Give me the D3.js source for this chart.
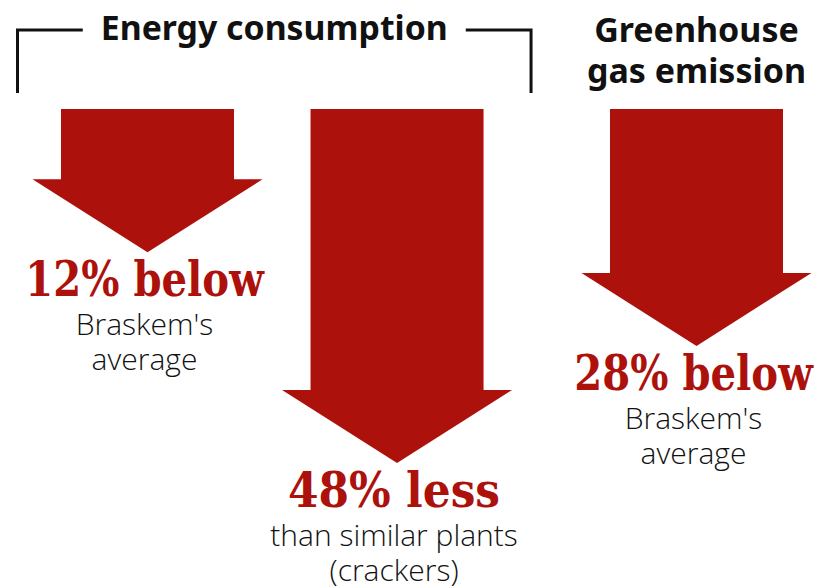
<!DOCTYPE html>
<html>
<head>
<meta charset="utf-8">
<script src="https://cdn.jsdelivr.net/npm/d3@7"></script>
<style>
  body { margin: 0; background: #fff; }
  svg { display: block; }
</style>
</head>
<body>
<div class="container"></div>
<script>
// Data
const categories = ['energyBraskem', 'energyCrackers', 'ghgBraskem'];
const groups = ['energy', 'energy', 'ghg'];
const values = [12, 48, 28];
const valueLabels = ['12% below', '48% less', '28% below'];
const subLabels = [
  ["Braskem's", 'average'],
  ['than similar plants', '(crackers)'],
  ["Braskem's", 'average'],
];
const groupNames = ['energy', 'ghg'];
const groupTitles = [['Energy consumption'], ['Greenhouse', 'gas emission']];

// Constants
const width = 827;
const height = 588;
const red = '#ad110c';
const shaftTop = 109;
const shaftWidth = 173;
const headWidth = 230;
const headHeight = 73;
const groupGap = 0.2;

const svg = d3
  .select('.container')
  .append('svg')
  .attr('width', width)
  .attr('height', height);

// slot index = position in list + extra gap between groups
const slots = categories.map((c, i) => i + groupNames.indexOf(groups[i]) * groupGap);
const x = d3
  .scaleLinear()
  .domain([0, d3.max(slots)])
  .range([147.5, 696.5]);

const shaft = d3.scaleLinear().domain([0, 48]).range([0, 281]);

const arrowPath = (d, i) => {
  const cx = x(slots[i]);
  const yHead = shaftTop + shaft(d);
  const p = d3.path();
  p.moveTo(cx - shaftWidth / 2, shaftTop);
  p.lineTo(cx + shaftWidth / 2, shaftTop);
  p.lineTo(cx + shaftWidth / 2, yHead);
  p.lineTo(cx + headWidth / 2, yHead);
  p.lineTo(cx, yHead + headHeight);
  p.lineTo(cx - headWidth / 2, yHead);
  p.lineTo(cx - shaftWidth / 2, yHead);
  p.closePath();
  return p.toString();
};

// Arrows
svg
  .append('g')
  .selectAll('path')
  .data(values)
  .enter()
  .append('path')
  .attr('d', arrowPath)
  .attr('fill', red);

// Value labels
const labels = svg
  .append('g')
  .selectAll('g')
  .data(values)
  .enter()
  .append('g')
  .attr('transform', (d, i) => `translate(${x(slots[i]) - 3},${shaftTop + shaft(d) + headHeight})`);

labels
  .append('text')
  .attr('y', 44)
  .attr('text-anchor', 'middle')
  .attr('fill', red)
  .style('font-family', '"DejaVu Serif", serif')
  .style('font-weight', 'bold')
  .style('font-size', '49px')
  .attr('textLength', (d, i) => valueLabels[i].length * 26.5)
  .attr('lengthAdjust', 'spacingAndGlyphs')
  .text((d, i) => valueLabels[i]);

labels
  .selectAll('text.sub')
  .data((d, i) => subLabels[i])
  .enter()
  .append('text')
  .attr('class', 'sub')
  .attr('y', (d, j) => 83 + j * 35)
  .attr('text-anchor', 'middle')
  .attr('fill', '#111')
  .style('font-family', '"Open Sans", "Noto Sans", sans-serif')
  .style('font-weight', 300)
  .style('font-size', '30px')
  .text((d) => d);

// Group titles
const titleFont = (sel) =>
  sel
    .attr('text-anchor', 'middle')
    .attr('fill', '#111')
    .style('font-family', '"Noto Sans", sans-serif')
    .style('font-weight', 'bold')
    .style('font-size', '34px');

// Energy bracket spans the energy arrows
const energyIdx = groups.map((g, i) => (g === 'energy' ? i : -1)).filter((i) => i >= 0);
const bx0 = x(slots[energyIdx[0]]) - headWidth / 2 - 15;
const bx1 = x(slots[energyIdx[energyIdx.length - 1]]) + headWidth / 2 + 19;
const bcx = (bx0 + bx1) / 2;
const tw = 347;

svg
  .append('text')
  .attr('x', bcx)
  .attr('y', 40)
  .call(titleFont)
  .attr('textLength', tw)
  .attr('lengthAdjust', 'spacingAndGlyphs')
  .text(groupTitles[0][0]);

const bracket = svg
  .append('g')
  .attr('fill', 'none')
  .attr('stroke', '#111')
  .attr('stroke-width', 3);
bracket
  .append('path')
  .attr('d', `M${bx0},93 V30 H${bcx - tw / 2 - 18}`);
bracket
  .append('path')
  .attr('d', `M${bcx + tw / 2 + 18},30 H${bx1} V93`);

// Greenhouse title
const ghgIdx = groups.indexOf('ghg');
svg
  .append('g')
  .selectAll('text')
  .data(groupTitles[1])
  .enter()
  .append('text')
  .attr('x', x(slots[ghgIdx]))
  .attr('y', (d, j) => 42 + j * 41)
  .call(titleFont)
  .text((d) => d);
</script>
</body>
</html>
